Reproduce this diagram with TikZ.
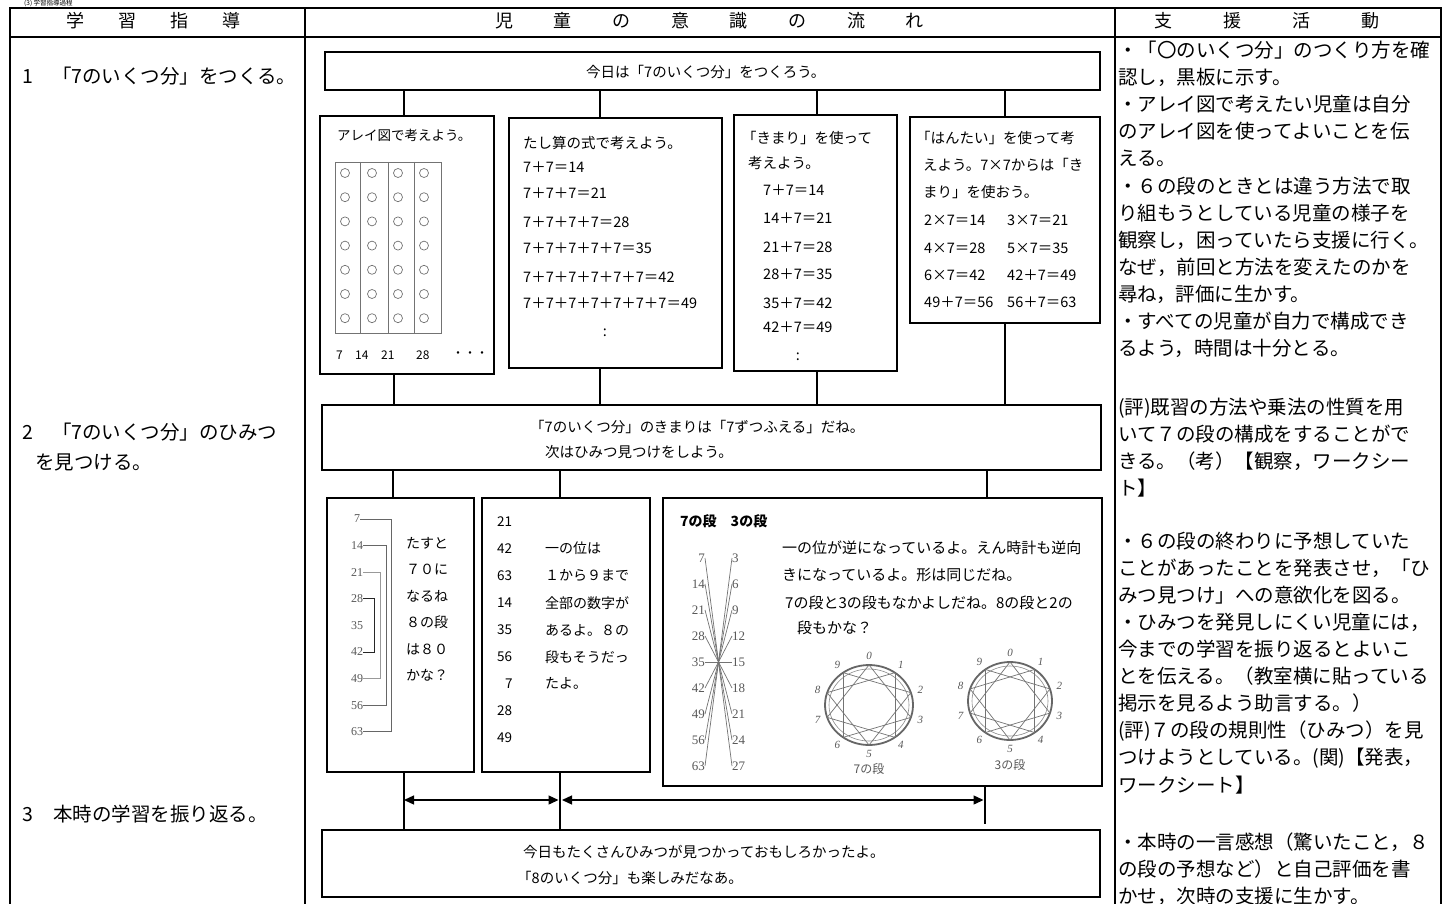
\documentclass[tikz,border=0pt]{standalone}
\usepackage{fontspec}
\setmainfont{Noto Sans CJK JP}
\newfontfamily\numfont{Liberation Serif}
\usetikzlibrary{arrows.meta}
\begin{document}
\begin{tikzpicture}[x=1pt,y=-1pt,
  tbl/.style={line width=1.3pt},
  box/.style={draw,line width=1.6pt,inner sep=0pt,rectangle},
  conn/.style={line width=1.4pt},
  sm/.style={anchor=west,inner sep=0pt,font=\fontsize{14.5}{16}\selectfont},
  gs/.style={anchor=west,inner sep=0pt,font=\fontsize{15}{17}\selectfont},
  rc/.style={anchor=west,inner sep=0pt,font=\fontsize{19.5}{22}\selectfont},
  lc/.style={anchor=west,inner sep=0pt,font=\fontsize{19.5}{22}\selectfont},
  hd/.style={inner sep=0pt,font=\fontsize{18}{20}\selectfont},
  enum/.style={anchor=west,inner sep=0pt,font=\numfont\fontsize{12}{14}\selectfont,text=black!65},
  cnum/.style={inner sep=0pt,font=\numfont\fontsize{13}{15}\selectfont,text=black!65},
  clab/.style={inner sep=0pt,font=\numfont\itshape\fontsize{11}{13}\selectfont,text=black!65},
  fig/.style={draw=black!55,line width=0.7pt},
  brk/.style={draw=black!60,line width=0.9pt},
  dbl/.style={{Triangle[length=10pt,width=9pt]}-{Triangle[length=10pt,width=9pt]},line width=1.3pt}
]
\useasboundingbox (0,0) rectangle (1455,904);
\fill[white] (0,0) rectangle (1455,904);

% ---------- table ----------
\draw[tbl] (10,904) -- (10,8) -- (1441,8) -- (1441,904);
\draw[tbl] (10,37) -- (1441,37);
\draw[tbl] (305,8) -- (305,904);
\draw[tbl] (1115,8) -- (1115,904);
\node[anchor=west,inner sep=0pt,font=\fontsize{6.5}{7}\selectfont] (caption) at (24,3.6) {(3) 学習指導過程};

\node[hd] (h1) at (153.5,21) {学\hspace{34pt}習\hspace{34pt}指\hspace{34pt}導};
\node[hd] (h2) at (709.5,21) {児\hspace{40.7pt}童\hspace{40.7pt}の\hspace{40.7pt}意\hspace{40.7pt}識\hspace{40.7pt}の\hspace{40.7pt}流\hspace{40.7pt}れ};
\node[hd] (h3) at (1266.5,21) {支\hspace{51pt}援\hspace{51pt}活\hspace{51pt}動};

% ---------- left column ----------
\node[lc] (l1) at (22,76) {1\hspace{19pt}「7のいくつ分」をつくる。};
\node[lc] (l2) at (22,432) {2\hspace{19pt}「7のいくつ分」のひみつ};
\node[lc] (l3) at (35,462) {を見つける。};
\node[lc] (l4) at (22,814) {3\hspace{20pt}本時の学習を振り返る。};

% ---------- right column ----------
\foreach \y/\t [count=\k] in {
 50/{・「〇のいくつ分」のつくり方を確},
 77/{認し，黒板に示す。},
 104/{・アレイ図で考えたい児童は自分},
 131/{のアレイ図を使ってよいことを伝},
 158/{える。},
 186/{・６の段のときとは違う方法で取},
 213/{り組もうとしている児童の様子を},
 240/{観察し，困っていたら支援に行く。},
 267/{なぜ，前回と方法を変えたのかを},
 294/{尋ね，評価に生かす。},
 321/{・すべての児童が自力で構成でき},
 348/{るよう，時間は十分とる。},
 408/{(評)既習の方法や乗法の性質を用},
 434/{いて７の段の構成をすることがで},
 461/{きる。（考）【観察，ワークシー},
 488/{ト】},
 541/{・６の段の終わりに予想していた},
 568/{ことがあったことを発表させ，「ひ},
 595/{みつ見つけ」への意欲化を図る。},
 622/{・ひみつを発見しにくい児童には，},
 649/{今までの学習を振り返るとよいこ},
 676/{とを伝える。（教室横に貼っている},
 703/{掲示を見るよう助言する。）},
 731/{(評)７の段の規則性（ひみつ）を見},
 758/{つけようとしている。(関)【発表，},
 785/{ワークシート】},
 842/{・本時の一言感想（驚いたこと，８},
 869/{の段の予想など）と自己評価を書},
 896/{かせ，次時の支援に生かす。}}
 \node[rc] (r\k) at (1118,\y) {\t};

% ---------- centre boxes ----------
\node[box,minimum width=775pt,minimum height=38pt] (top) at (712.5,71) {};
\node[box,minimum width=174pt,minimum height=258pt] (A) at (407,245) {};
\node[box,minimum width=213pt,minimum height=250pt] (B) at (615.5,243) {};
\node[box,minimum width=163pt,minimum height=256pt] (C) at (815.5,243) {};
\node[box,minimum width=190pt,minimum height=206pt] (D) at (1005,220) {};
\node[box,minimum width=779pt,minimum height=65pt] (M) at (711.5,437.5) {};
\node[box,minimum width=147pt,minimum height=274pt] (E) at (400.5,635) {};
\node[box,minimum width=168pt,minimum height=274pt] (F) at (566,635) {};
\node[box,minimum width=439pt,minimum height=288pt] (G) at (882.5,642) {};
\node[box,minimum width=778pt,minimum height=67pt] (Bot) at (711,863.5) {};

% connectors
\coordinate (tA) at ([xshift=-3pt]A.north);
\coordinate (tB) at ([xshift=-15.5pt]B.north);
\coordinate (tC) at ([xshift=1.5pt]C.north);
\coordinate (tD) at (D.north);
\draw[conn] (tA |- top.south) -- (tA);
\draw[conn] (tB |- top.south) -- (tB);
\draw[conn] (tC |- top.south) -- (tC);
\draw[conn] (tD |- top.south) -- (tD);
\coordinate (bA) at ([xshift=-13pt]A.south);
\coordinate (bB) at ([xshift=-15.5pt]B.south);
\coordinate (bC) at ([xshift=1.5pt]C.south);
\coordinate (bD) at (D.south);
\draw[conn] (bA) -- (bA |- M.north);
\draw[conn] (bB) -- (bB |- M.north);
\draw[conn] (bC) -- (bC |- M.north);
\draw[conn] (bD) -- (bD |- M.north);
\coordinate (tE) at ([xshift=-7.5pt]E.north);
\coordinate (tF) at ([xshift=-6pt]F.north);
\coordinate (tG) at ([xshift=104.5pt]G.north);
\draw[conn] (tE |- M.south) -- (tE);
\draw[conn] (tF |- M.south) -- (tF);
\draw[conn] (tG |- M.south) -- (tG);
\coordinate (bE) at ([xshift=3.5pt]E.south);
\coordinate (bF) at ([xshift=-6pt]F.south);
\coordinate (bG) at ([xshift=102.5pt]G.south);
\coordinate (gEnd) at (bG |- 0,824);
\draw[conn] (bE) -- (bE |- Bot.north);
\draw[conn] (bF) -- (bF |- Bot.north);
\draw[conn] (bG) -- (gEnd);
\coordinate (a1) at (bE |- 0,800);
\coordinate (a2) at ([xshift=-1.5pt]bF |- 0,800);
\coordinate (a3) at ([xshift=2pt]bF |- 0,800);
\coordinate (a4) at ([xshift=-1.5pt]bG |- 0,800);
\draw[dbl] (a1) -- (a2);
\draw[dbl] (a3) -- (a4);

% top box text
\node[sm] (t0) at (586,72) {今日は「7のいくつ分」をつくろう。};

% box A
\node[sm,font=\fontsize{13.5}{15}\selectfont] (a0) at (337,135) {アレイ図で考えよう。};
\draw[fig] (335,162) rectangle (441,333);
\foreach \x in {360,388,414} \draw[fig] (\x,162) -- (\x,333);
\foreach \x in {345,372,398,424} \foreach \i in {0,...,6} \draw[fig] (\x,{173+24.2*\i}) circle [radius=4.5];
\node[sm,font=\fontsize{12}{14}\selectfont] (an1) at (336,355) {7};
\node[sm,font=\fontsize{12}{14}\selectfont] (an2) at (355,355) {14};
\node[sm,font=\fontsize{12}{14}\selectfont] (an3) at (381,355) {21};
\node[sm,font=\fontsize{12}{14}\selectfont] (an4) at (416,355) {28};
\node[sm,font=\fontsize{12}{14}\selectfont] (an5) at (452,355) {・・・};

% box B
\node[sm] (b0) at (523,143) {たし算の式で考えよう。};
\foreach \y/\t [count=\k] in {167/{7＋7＝14},193/{7＋7＋7＝21},222/{7＋7＋7＋7＝28},248/{7＋7＋7＋7＋7＝35},277/{7＋7＋7＋7＋7＋7＝42},303/{7＋7＋7＋7＋7＋7＋7＝49}}
 \node[sm] (b\k) at (523,\y) {\t};
\node[sm,anchor=center] (b7) at (605,333) {:};

% box C
\node[sm] (c0) at (742,138) {「きまり」を使って};
\node[sm] (c1) at (748,163) {考えよう。};
\foreach \y/\t [count=\k] in {190/{7＋7＝14},218/{14＋7＝21},247/{21＋7＝28},274/{28＋7＝35},303/{35＋7＝42},327/{42＋7＝49}}
 \node[sm] (c\k x) at (763,\y) {\t};
\node[sm,anchor=center] (c8) at (798,357) {:};

% box D
\node[sm] (d0) at (916,138) {「はんたい」を使って考};
\node[sm] (d1) at (923,165) {えよう。7×7からは「き};
\node[sm] (d2) at (923,192) {まり」を使おう。};
\foreach \y/\l/\r [count=\k] in {220/{2×7＝14}/{3×7＝21},248/{4×7＝28}/{5×7＝35},275/{6×7＝42}/{42＋7＝49},302/{49＋7＝56}/{56＋7＝63}}{
 \node[sm] (dl\k) at (924,\y) {\l};
 \node[sm] (dr\k) at (1007,\y) {\r};
}

% middle box
\node[sm] (m1) at (530,427) {「7のいくつ分」のきまりは「7ずつふえる」だね。};
\node[sm] (m2) at (545,452) {次はひみつ見つけをしよう。};

% box E
\foreach \n [count=\k from 0] in {7,14,21,28,35,42,49,56,63}
 \node[enum] (e\k) at ({351+(\n==7 ? 3 : 0)},{519+26.6*\k}) {\n};
\draw[brk] (e0.east) -- (e0.east -| 391,0) -- (e8.east -| 391,0) -- (e8.east);
\draw[brk] (e1.east) -- (e1.east -| 386,0) -- (e7.east -| 386,0) -- (e7.east);
\draw[brk,draw=black!40] (e2.east) -- (e2.east -| 380,0) -- (e6.east -| 380,0) -- (e6.east);
\draw[brk,draw=black!85] (e3.east) -- (e3.east -| 374,0) -- (e5.east -| 374,0) -- (e5.east);
\foreach \y/\t [count=\k] in {543/たすと,569/７０に,596/なるね,622/８の段,649/は８０,675/かな？}
 \node[sm,font=\fontsize{14}{16}\selectfont] (et\k) at (406,\y) {\t};

% box F
\foreach \n [count=\k from 0] in {21,42,63,14,35,56,7,28,49}
 \node[sm,font=\fontsize{13.5}{15}\selectfont] (f\k) at ({497+(\n==7 ? 8 : 0)},{522+26.9*\k}) {\n};
\foreach \y/\t [count=\k] in {548/一の位は,575/１から９まで,603/全部の数字が,630/あるよ。８の,657/段もそうだっ,683/たよ。}
 \node[sm,font=\fontsize{14}{16}\selectfont] (ft\k) at (545,\y) {\t};

% box G
\node[gs,font=\bfseries\fontsize{14}{16}\selectfont] (g0) at (680,521) {7の段　3の段};
\node[gs] (g1) at (782,548) {一の位が逆になっているよ。えん時計も逆向};
\node[gs] (g2) at (782,575) {きになっているよ。形は同じだね。};
\node[gs] (g3) at (785,603) {7の段と3の段もなかよしだね。8の段と2の};
\node[gs] (g4) at (797,628) {段もかな？};
\foreach \l/\r [count=\k from 0] in {7/3,14/6,21/9,28/12,35/15,42/18,49/21,56/24,63/27}{
 \node[cnum,anchor=east] (L\k) at (705,{558+26*\k}) {\l};
 \node[cnum,anchor=west] (R\k) at (732,{558+26*\k}) {\r};
}
\foreach \k in {0,...,8}{
 \pgfmathtruncatemacro\jj{8-\k}
 \draw[fig] (L\k.east) -- (R\jj.west);
}
\foreach \cx/\cy/\rx/\ry/\lab/\nm in {869/705/44/40/7の段/ca,1010/701/42/39/3の段/cb}{
 \draw[black!60,line width=1.8pt] (\cx,\cy) ellipse [x radius=\rx, y radius=\ry];
 \draw[black!45,line width=0.6pt] (\cx,\cy) ellipse [x radius=\rx-4, y radius=\ry-4];
 \foreach \k in {0,...,9}{
  \pgfmathsetmacro\ang{90-36*\k}
  \coordinate (\nm p\k) at ({\cx+\rx*cos(\ang)},{\cy-\ry*sin(\ang)});
  \node[clab] (\nm l\k) at ({\cx+(\rx+10)*cos(\ang)},{\cy-(\ry+9)*sin(\ang)}) {\k};
 }
 \foreach \k in {0,...,9}{
  \pgfmathtruncatemacro\jj{mod(\k+3,10)}
  \draw[fig] (\nm p\k) -- (\nm p\jj);
 }
 \node[inner sep=0pt,font=\fontsize{12}{14}\selectfont,text=black!65] (\nm t) at (\cx,{\cy+64}) {\lab};
}

% bottom box
\node[sm] (z1) at (523,852) {今日もたくさんひみつが見つかっておもしろかったよ。};
\node[sm] (z2) at (517,878) {「8のいくつ分」も楽しみだなあ。};
\end{tikzpicture}
\end{document}
